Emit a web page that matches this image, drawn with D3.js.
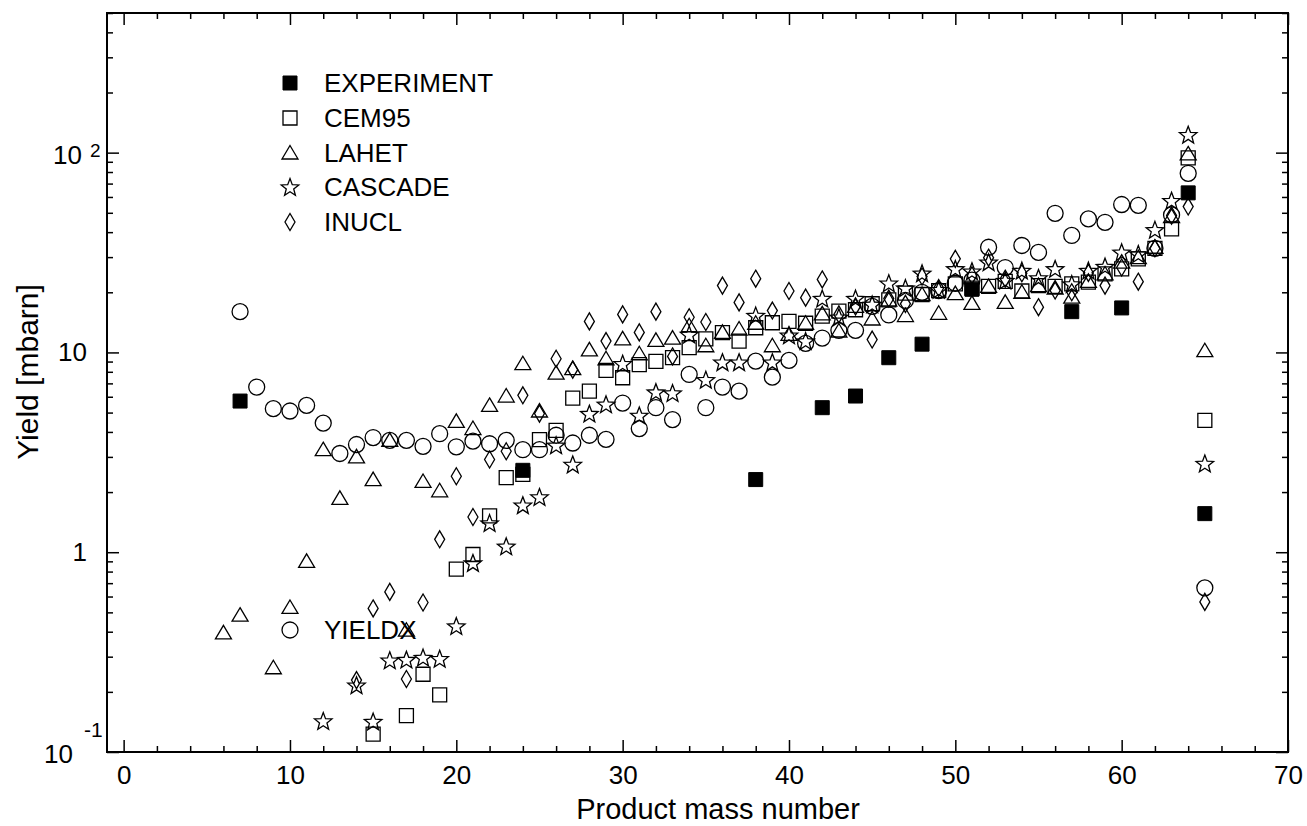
<!DOCTYPE html>
<html lang="en">
<head>
<meta charset="UTF-8">
<title>Product yields</title>
<style>
    body { margin: 0; background: #fff; }
    text { font-family: "Liberation Sans", Arial, sans-serif; fill: #000; }
    .open { fill: none; stroke: #000; stroke-width: 1.3px; }
    .solid { fill: #000; stroke: #000; stroke-width: 1px; }
</style>
</head>
<body>
<svg width="1307" height="826"></svg>
<script src="https://d3js.org/d3.v7.min.js"></script>
<script>
// mass numbers and yields [mbarn]
var experimentA = [7, 24, 38, 42, 44, 46, 48, 51, 57, 60, 64, 65];
var experimentY = [5.71, 2.57, 2.31, 5.29, 6.05, 9.41, 11.0, 20.7, 16.0, 16.7, 62.9, 1.56];

var cem95A = [15, 17, 18, 19, 20, 21, 22, 23, 24, 25, 26, 27, 28, 29, 30, 31, 32, 33, 34, 35, 36, 37, 38, 39, 40,
    41, 42, 43, 44, 45, 46, 47, 48, 49, 50, 51, 52, 53, 54, 55, 56, 57, 58, 59, 60, 61, 62, 63, 64, 65];
var cem95Y = [0.123, 0.152, 0.245, 0.193, 0.822, 0.974, 1.52, 2.36, 2.45, 3.66, 4.07, 5.91, 6.4, 8.13, 7.47, 8.68,
    9.02, 9.41, 10.56, 11.7, 12.55, 11.39, 13.29, 14.08, 14.29, 14.0, 15.19, 16.09, 16.35, 17.52, 18.34, 19.8,
    19.5, 20.4, 22.05, 21.0, 21.4, 22.7, 20.3, 21.6, 21.4, 22.05, 22.5, 24.7, 26.2, 29.4, 33.2, 41.5, 94.1, 4.57];

var lahetA = [6, 7, 9, 10, 11, 12, 13, 14, 15, 16, 17, 18, 19, 20, 21, 22, 23, 24, 25, 26, 27, 28, 29, 30, 31, 32,
    33, 34, 35, 36, 37, 38, 39, 40, 41, 42, 43, 44, 45, 46, 47, 48, 49, 50, 51, 52, 53, 54, 55, 56, 57, 58, 59,
    60, 61, 62, 63, 64, 65];
var lahetY = [0.395, 0.484, 0.264, 0.529, 0.90, 3.26, 1.86, 3.0, 2.31, 3.63, 0.407, 2.26, 2.03, 4.52, 4.16, 5.43,
    6.05, 8.78, 5.09, 7.88, 8.29, 10.3, 9.3, 11.7, 9.85, 11.5, 11.8, 13.6, 10.8, 12.6, 13.1, 14.0, 10.8, 12.3,
    14.0, 15.6, 12.8, 17.0, 14.7, 18.3, 15.3, 19.5, 15.7, 19.7, 17.6, 21.4, 17.8, 20.0, 21.6, 21.0, 18.9, 22.7,
    24.7, 28.3, 29.8, 33.6, 47.9, 98.5, 10.2];

var cascadeA = [12, 14, 15, 16, 17, 18, 19, 20, 21, 22, 23, 24, 25, 26, 27, 28, 29, 30, 31, 32, 33, 34, 35, 36,
    37, 38, 39, 40, 41, 42, 43, 44, 45, 46, 47, 48, 49, 50, 51, 52, 53, 54, 55, 56, 57, 58, 59, 60, 61, 62, 63,
    64, 65];
var cascadeY = [0.143, 0.216, 0.142, 0.288, 0.29, 0.297, 0.293, 0.427, 0.884, 1.40, 1.07, 1.72, 1.89, 3.43, 2.75,
    4.94, 5.5, 8.78, 4.84, 6.33, 6.26, 12.3, 7.3, 8.94, 8.94, 15.3, 8.94, 12.2, 11.4, 18.6, 15.0, 18.6, 17.4,
    22.2, 21.0, 24.9, 20.6, 26.2, 25.5, 28.3, 22.9, 25.7, 23.6, 26.2, 22.0, 25.7, 26.9, 31.7, 31.1, 41.1, 57.5,
    123, 2.78];

var inuclA = [14, 15, 16, 17, 18, 19, 20, 21, 22, 23, 24, 25, 26, 27, 28, 29, 30, 31, 32, 33, 34, 35, 36, 37, 38,
    39, 40, 41, 42, 43, 44, 45, 46, 47, 48, 49, 50, 51, 52, 53, 54, 55, 56, 57, 58, 59, 60, 61, 62, 63, 64, 65];
var inuclY = [0.229, 0.523, 0.633, 0.232, 0.56, 1.16, 2.40, 1.50, 2.91, 3.2, 6.1, 4.94, 9.3, 8.2, 14.3, 11.4,
    15.5, 12.6, 16.0, 9.55, 15.0, 14.2, 21.6, 17.8, 23.4, 16.2, 20.3, 18.8, 23.2, 15.5, 17.0, 11.6, 18.6, 17.5,
    24.0, 21.0, 29.4, 24.3, 29.8, 23.4, 24.9, 16.85, 20.4, 20.0, 25.0, 21.6, 26.6, 22.6, 33.2, 48.4, 53.7, 0.564];

var yieldxA = [7, 8, 9, 10, 11, 12, 13, 14, 15, 16, 17, 18, 19, 20, 21, 22, 23, 24, 25, 26, 27, 28, 29, 30, 31,
    32, 33, 34, 35, 36, 37, 38, 39, 40, 41, 42, 43, 44, 45, 46, 47, 48, 49, 50, 51, 52, 53, 54, 55, 56, 57, 58,
    59, 60, 61, 62, 63, 64, 65];
var yieldxY = [16.0, 6.71, 5.23, 5.09, 5.43, 4.43, 3.12, 3.46, 3.75, 3.63, 3.63, 3.39, 3.92, 3.37, 3.6, 3.49,
    3.63, 3.26, 3.26, 3.85, 3.52, 3.85, 3.67, 5.58, 4.16, 5.29, 4.61, 7.76, 5.29, 6.71, 6.4, 9.05, 7.52, 9.12,
    11.1, 11.8, 12.9, 12.9, 17.0, 15.4, 18.2, 20.0, 20.4, 22.2, 23.0, 33.6, 26.6, 34.3, 31.7, 49.7, 38.5, 46.6,
    44.8, 55, 54.5, 33.2, 48.8, 78.8, 0.663];

var legendNames = ["EXPERIMENT", "CEM95", "LAHET", "CASCADE", "INUCL"];
var xTickValues = [0, 10, 20, 30, 40, 50, 60, 70];

var svg = d3.select("svg");
var plotLeft = 107, plotRight = 1288, plotTop = 13, plotBottom = 752;

var x = d3.scaleLinear().domain([-1, 70]).range([plotLeft, plotRight]);
var y = d3.scaleLog().domain([0.1, 500]).range([plotBottom, plotTop]);

// marker shapes
function square(s) { var h = s / 2; return "M" + -h + "," + -h + "H" + h + "V" + h + "H" + -h + "Z"; }
function triangle() { return "M0,-7.5L8,6L-8,6Z"; }
function diamond() { return "M0,-8.5L5,0L0,8.5L-5,0Z"; }
function star() {
    var p = [];
    for (var i = 0; i < 10; i++) {
        var r = i % 2 ? 3.9 : 9.2, a = -Math.PI / 2 + i * Math.PI / 5;
        p.push([r * Math.cos(a), r * Math.sin(a) + 0.8]);
    }
    return "M" + p.join("L") + "Z";
}
function circle() { return "M8,0A8,8 0 1,1 -8,0A8,8 0 1,1 8,0Z"; }

var shapes = {
    exp: function () { return square(14); },
    cem: function () { return square(14); },
    lahet: triangle, cascade: star, inucl: diamond, yieldx: circle
};

// frame
svg.append("rect")
    .attr("x", plotLeft).attr("y", plotTop)
    .attr("width", plotRight - plotLeft).attr("height", plotBottom - plotTop)
    .attr("fill", "none").attr("stroke", "#000").attr("stroke-width", 2);

// x ticks (bottom and top, inward)
var xMinor = d3.range(0, 71, 2).filter(function (d) { return d % 10 !== 0; });
var xAxisB = d3.axisBottom(x).tickValues(xTickValues).tickSize(-12).tickPadding(14).tickFormat(d3.format("d"));
var gxb = svg.append("g").attr("transform", "translate(0," + plotBottom + ")").call(xAxisB);
svg.append("g").attr("transform", "translate(0," + plotBottom + ")")
    .call(d3.axisBottom(x).tickValues(xMinor).tickSize(-6).tickFormat(""));
svg.append("g").attr("transform", "translate(0," + plotTop + ")")
    .call(d3.axisTop(x).tickValues(xTickValues).tickSize(-12).tickFormat(""));
svg.append("g").attr("transform", "translate(0," + plotTop + ")")
    .call(d3.axisTop(x).tickValues(xMinor).tickSize(-6).tickFormat(""));
gxb.selectAll("text").style("font-size", "26px").style("font-family", "Liberation Sans, Arial, sans-serif");

// y ticks (left and right, inward)
var yMajor = [0.1, 1, 10, 100];
var yMinor = [];
yMajor.forEach(function (d) {
    for (var k = 2; k <= 9; k++) if (d * k <= 500) yMinor.push(d * k);
});
svg.append("g").attr("transform", "translate(" + plotLeft + ",0)")
    .call(d3.axisLeft(y).tickValues(yMajor).tickSize(-12).tickFormat(""));
svg.append("g").attr("transform", "translate(" + plotLeft + ",0)")
    .call(d3.axisLeft(y).tickValues(yMinor).tickSize(-6).tickFormat(""));
svg.append("g").attr("transform", "translate(" + plotRight + ",0)")
    .call(d3.axisRight(y).tickValues(yMajor).tickSize(-12).tickFormat(""));
svg.append("g").attr("transform", "translate(" + plotRight + ",0)")
    .call(d3.axisRight(y).tickValues(yMinor).tickSize(-6).tickFormat(""));
svg.selectAll(".domain").remove();
svg.selectAll(".tick line").attr("stroke", "#000").attr("stroke-width", 1.5);

// y tick labels, placed the way the original places them
svg.append("text").attr("x", 82).attr("y", y(100) + 11).attr("text-anchor", "end")
    .style("font-size", "26px").text("10");
svg.append("text").attr("x", 90).attr("y", y(100) + 4).style("font-size", "19px").text("2");
svg.append("text").attr("x", 87).attr("y", y(10) + 9).attr("text-anchor", "end")
    .style("font-size", "26px").text("10");
svg.append("text").attr("x", 87).attr("y", y(1) + 9).attr("text-anchor", "end")
    .style("font-size", "26px").text("1");
svg.append("text").attr("x", 73).attr("y", y(0.1) + 11).attr("text-anchor", "end")
    .style("font-size", "26px").text("10");
svg.append("text").attr("x", 84).attr("y", y(0.1) - 15).style("font-size", "21px").text("-1");

// axis titles
svg.append("text").attr("x", 718).attr("y", 819).attr("text-anchor", "middle")
    .style("font-size", "29px").text("Product mass number");
svg.append("text").attr("transform", "translate(38,372) rotate(-90)").attr("text-anchor", "middle")
    .style("font-size", "30px").text("Yield [mbarn]");

// data series
function drawSeries(aArr, yArr, shape, cls) {
    svg.append("g").selectAll("path")
        .data(aArr.map(function (a, i) { return [a, yArr[i]]; }))
        .enter().append("path")
        .attr("class", cls)
        .attr("d", shape)
        .attr("transform", function (d) { return "translate(" + x(d[0]) + "," + y(d[1]) + ")"; });
}
drawSeries(cem95A, cem95Y, shapes.cem, "open");
drawSeries(lahetA, lahetY, shapes.lahet, "open");
drawSeries(cascadeA, cascadeY, shapes.cascade, "open");
drawSeries(inuclA, inuclY, shapes.inucl, "open");
drawSeries(yieldxA, yieldxY, shapes.yieldx, "open");
drawSeries(experimentA, experimentY, shapes.exp, "solid");

// legend
var legendShapes = [shapes.exp, shapes.cem, shapes.lahet, shapes.cascade, shapes.inucl];
var legendY = [83, 118, 153, 187, 222];
legendNames.forEach(function (name, i) {
    svg.append("path").attr("class", i === 0 ? "solid" : "open")
        .attr("d", legendShapes[i]())
        .attr("transform", "translate(290," + legendY[i] + ")");
    svg.append("text").attr("x", 324).attr("y", legendY[i]).attr("dy", "0.36em")
        .style("font-size", "26px").text(name);
});
// the sixth entry sits down in the plot
svg.append("path").attr("class", "open").attr("d", shapes.yieldx())
    .attr("transform", "translate(290,630)");
svg.append("text").attr("x", 324).attr("y", 630).attr("dy", "0.36em")
    .style("font-size", "26px").text("YIELDX");
</script>
</body>
</html>
